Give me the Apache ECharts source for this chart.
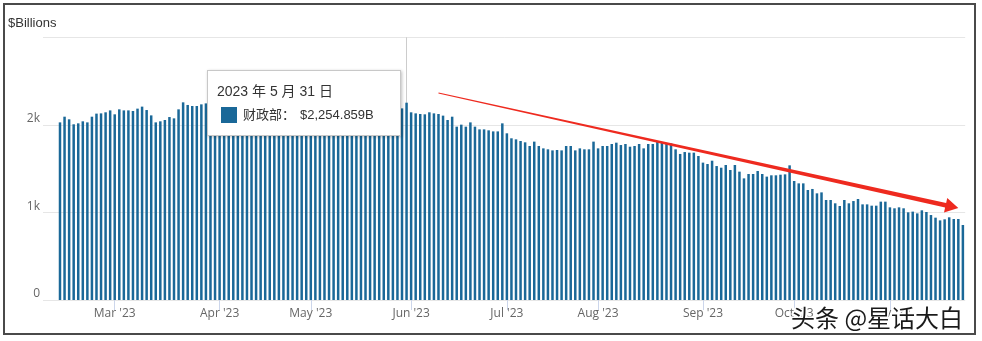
<!DOCTYPE html>
<html><head><meta charset="utf-8">
<script src="https://cdn.jsdelivr.net/npm/echarts@6/dist/echarts.min.js"></script>
<style>html,body{margin:0;padding:0;background:#fff}#c{width:982px;height:341px}</style>
</head><body><div id="c"></div>
<script>
// ---- data ----
const startDate = '2023-02-10';
const endDate = '2023-11-27';
const holidays = ['2023-02-20','2023-05-29','2023-06-19','2023-07-04','2023-09-04','2023-10-09','2023-11-10','2023-11-23'];
const monthNames = ['Jan','Feb','Mar','Apr','May','Jun','Jul','Aug','Sep','Oct','Nov','Dec'];
const yTickValues = [0, 1000, 2000, 3000];
const yTickLabels = ['0', '1k', '2k', ''];
const seriesName = '财政部';
const values = [
  2030,2095,2065,2008,2019,2042,2030,2095,2130,2133,2145,2167,2122,2179,2167,2167,2160,2187,2210,2171,2110,2030,2042,2057,2091,2076,2179,2259,2229,2217,2217,2236,2247,
  2270,2375,2283,2247,2240,2230,2225,2240,2258,2200,2196,2190,2150,2165,2200,2250,2248,2230,2240,2270,2275,2330,2238,2245,2250,2235,2215,2200,2195,2205,2200,2190,2180,2170,2168,2165,2175,2180,2150,2145,2160,2170,2190,
  2254.859,
  2145,2133,2126,
  2122,2145,2133,2126,2107,2057,2095,1981,2004,1981,2030,1981,1950,1950,1939,1927,1927,2019,1905,1848,1836,1817,1802,1760,1810,1760,1733,1722,1710,1714,1710,1760,1760,1710,1733,1722,1722,1810,1733,1760,
  1760,1783,1798,1771,1783,1752,1760,1783,1733,1783,1783,1806,1798,1783,1790,1722,1669,1691,1684,1684,1646,1570,1554,1592,1531,1512,1543,1486,1543,1467,1390,1440,1440,1474,1440,1410,1425,1425,
  1432,1436,1539,1360,1333,1333,1257,1269,1219,1230,1143,1143,1105,1074,1143,1105,1131,1154,1093,1093,1078,1078,1124,1124,1059,1048,1059,1048,1002,1010,990,1025,1006,971,941,910,922,945,926,926,857
];
const tipDate = '2023-05-31';
const arrowStart = [83, 2366];
const arrowEnd = [197, 1051];

// ---- categories (federal business days) ----
function businessDays(s, e, h) {
  const out = [];
  const d = new Date(s + 'T00:00:00Z');
  const end = new Date(e + 'T00:00:00Z');
  while (d <= end) {
    const w = d.getUTCDay();
    const iso = d.toISOString().slice(0, 10);
    if (w !== 0 && w !== 6 && h.indexOf(iso) < 0) out.push(iso);
    d.setUTCDate(d.getUTCDate() + 1);
  }
  return out;
}
const dates = businessDays(startDate, endDate, holidays);
function isMonthStart(i) {
  return i > 0 && dates[i].slice(5, 7) !== dates[i - 1].slice(5, 7);
}
const tipIndex = dates.indexOf(tipDate);

const BAR = '#1a6898';
const band = 4.56, firstCenter = 60;
const gLeft = firstCenter - band / 2;
const gRight = 982 - (gLeft + dates.length * band);

const chart = echarts.init(document.getElementById('c'), null, {renderer: 'canvas'});
chart.setOption({
  animation: false,
  backgroundColor: '#fff',
  grid: [
    {left: 43, right: gRight, top: 37.5, bottom: 41},
    {left: gLeft, right: gRight, top: 37.5, bottom: 41}
  ],
  xAxis: [
    {gridIndex: 0, type: 'value', min: 0, max: 1, show: false},
    {
      gridIndex: 1, type: 'category', data: dates,
      axisLine: {show: false},
      axisTick: {show: true, alignWithLabel: true, length: 10, lineStyle: {color: '#ccd6eb'},
        interval: function (i) { return isMonthStart(i); }},
      axisLabel: {
        interval: function (i) { return isMonthStart(i); },
        formatter: function (v) { const m = parseInt(v.slice(5, 7), 10) - 1; return monthNames[m] + " '" + v.slice(2, 4); },
        color: '#666', fontSize: 12, fontFamily: 'Open Sans', margin: 8
      },
      splitLine: {show: false}
    }
  ],
  yAxis: [
    {
      gridIndex: 0, type: 'value', min: 0, max: 3000, interval: 1000,
      axisLine: {show: false}, axisTick: {show: false},
      axisLabel: {color: '#666', fontSize: 12, fontFamily: 'Open Sans', margin: 3, verticalAlign: 'bottom',
        formatter: function (v) { const k = yTickValues.indexOf(v); return k >= 0 ? yTickLabels[k] : ''; }},
      splitLine: {lineStyle: {color: '#e6e6e6', width: 1}}
    },
    {gridIndex: 1, type: 'value', min: 0, max: 3000, interval: 1000, show: false, splitLine: {show: false}}
  ],
  tooltip: {
    trigger: 'axis',
    triggerOn: 'none',
    alwaysShowContent: true,
    axisPointer: {type: 'line', lineStyle: {color: '#cccccc', width: 1, type: 'solid'}, z: 1},
    backgroundColor: '#fff',
    borderColor: '#c8c8c8',
    borderWidth: 1,
    padding: [8, 9],
    extraCssText: 'box-shadow:1px 1px 3px rgba(0,0,0,0.25);border-radius:0;overflow:visible;',
    position: function () { return [207, 70]; },
    formatter: function (params) {
      const p = params.find(q => q.seriesIndex === 0) || params[0];
      const d = dates[p.dataIndex];
      const y = d.slice(0, 4), m = parseInt(d.slice(5, 7), 10), dd = parseInt(d.slice(8, 10), 10);
      const val = '$' + Number(p.value).toLocaleString('en-US', {minimumFractionDigits: 3, maximumFractionDigits: 3}) + 'B';
      return '<div style="position:relative;font-family:\'Liberation Sans\',\'Noto Sans CJK SC\',sans-serif;font-size:14px;color:#333;line-height:24px;width:174px;">' +
        '<div>' + y + ' 年 ' + m + ' 月 ' + dd + ' 日</div>' +
        '<div style="display:flex;align-items:center;"><span style="display:inline-block;width:16px;height:16px;background:' + BAR + ';margin:0 6px 0 4px;"></span>' +
        '<span style="font-size:13px">' + seriesName + '：</span><span style="margin-left:5px;font-size:13px">' + val + '</span></div>' +
        '</div>';
    }
  },
  series: [{
    name: seriesName, type: 'bar', xAxisIndex: 1, yAxisIndex: 1,
    data: values, barWidth: 2.5, itemStyle: {color: BAR},
    emphasis: {disabled: true}
  }]
});

const s = chart.convertToPixel({gridIndex: 1}, arrowStart);
const t = chart.convertToPixel({gridIndex: 1}, arrowEnd);
const dx = t[0] - s[0], dy = t[1] - s[1], L = Math.sqrt(dx * dx + dy * dy);
const ux = dx / L, uy = dy / L, nx = -uy, ny = ux;
const headLen = 13, headHalf = 7.5, w0 = 0.5, w1 = 2.4;
const b = [t[0] - ux * headLen, t[1] - uy * headLen];
const pts = [
  [s[0] + nx * w0, s[1] + ny * w0],
  [b[0] + nx * w1, b[1] + ny * w1],
  [b[0] + nx * headHalf, b[1] + ny * headHalf],
  [t[0], t[1]],
  [b[0] - nx * headHalf, b[1] - ny * headHalf],
  [b[0] - nx * w1, b[1] - ny * w1],
  [s[0] - nx * w0, s[1] - ny * w0]
];

chart.setOption({
  graphic: [
    {type: 'text', left: 8, top: 17, style: {text: '$Billions', font: '13px "Liberation Sans", Arial', fill: '#333'}},
    {type: 'polygon', shape: {points: pts}, style: {fill: '#ee2a1f'}, z: 100},
    {type: 'rect', shape: {x: 4, y: 4, width: 971, height: 330}, style: {fill: 'none', stroke: '#4a4a4a', lineWidth: 2}, z: 100},
    {type: 'text', x: 791, y: 318, style: {text: '头条 @星话大白', font: '24px "Noto Sans CJK SC"', fill: '#1a1a1a', stroke: '#fff', lineWidth: 3, verticalAlign: 'middle'}, z: 101}
  ]
});

chart.dispatchAction({type: 'showTip', seriesIndex: 0, dataIndex: tipIndex});
</script>
</body></html>
